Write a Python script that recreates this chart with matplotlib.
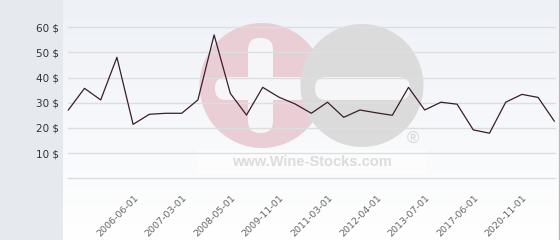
import numpy as np
import matplotlib
matplotlib.use("Agg")
import matplotlib.pyplot as plt
from matplotlib.patches import Circle, FancyBboxPatch, Rectangle

# ---------------- Data ----------------
prices = [27.1, 35.7, 31.1, 48.0, 21.4, 25.4, 25.8, 25.8, 31.1, 56.9,
          33.7, 25.1, 36.1, 32.2, 29.5, 25.8, 30.2, 24.2, 27.1, 26.0,
          25.0, 36.1, 27.1, 30.2, 29.4, 19.2, 17.9, 30.2, 33.3, 32.1,
          22.7]
tick_index = [4, 7, 10, 13, 16, 19, 22, 25, 28]
tick_labels = ["2006-06-01", "2007-03-01", "2008-05-01", "2009-11-01",
               "2011-03-01", "2012-04-01", "2013-07-01", "2017-06-01",
               "2020-11-01"]
y_ticks = [10, 20, 30, 40, 50, 60]

# ---------------- Layout (pixels) ----------------
W, H = 560, 240
PANEL_X = 63          # left grey panel width
X0_PX, DX_PX = 68.3, 16.2   # first point, spacing
Y0_PX, DY_PX = 178.3, 2.52  # value 0, px per unit

fig = plt.figure(figsize=(W / 100, H / 100), dpi=100)

# background axes in pixel coordinates
bg = fig.add_axes([0, 0, 1, 1])
bg.set_xlim(0, W)
bg.set_ylim(H, 0)
bg.set_axis_off()
bg.add_patch(Rectangle((0, 0), PANEL_X, H, color="#e6eaee", lw=0))
grad = np.linspace(0, 1, 100)[:, None]
top = np.array([0.933, 0.945, 0.965])
bottom = np.array([1.0, 1.0, 1.0])
img = top + (bottom - top) * grad
bg.imshow(img[:, None, :].repeat(2, axis=1), extent=[PANEL_X, 558, H, 0],
          aspect="auto", zorder=0)
bg.plot([558.5, 558.5], [0, H], color="#b8b8b8", lw=1, zorder=1)

# watermark
bg.add_patch(Rectangle((197, 150), 230, 25, color="white", alpha=0.5, lw=0, zorder=1))
bg.add_patch(Circle((262, 85.5), 62.5, color="#eaced5", lw=0, zorder=2))
bar_col = "#f6f6f9"
bg.add_patch(FancyBboxPatch((248, 38), 25, 95, boxstyle="round,pad=0,rounding_size=12",
                            color=bar_col, lw=0, zorder=3))
bg.add_patch(FancyBboxPatch((215, 77), 95, 23, boxstyle="round,pad=0,rounding_size=11",
                            color=bar_col, lw=0, zorder=3))
bg.add_patch(Circle((362, 85.5), 61.5, color="#dbdbdb", lw=0, zorder=4))
bg.add_patch(FancyBboxPatch((315, 77), 95, 23, boxstyle="round,pad=0,rounding_size=11",
                            color=bar_col, lw=0, zorder=5))
bg.text(312, 162, "www.Wine-Stocks.com", ha="center", va="center",
        fontsize=10.5, fontweight="bold", family="Liberation Sans",
        color="#dcdcdc", zorder=5)
bg.text(413, 139, "\u00ae", ha="center", va="center", fontsize=12,
        family="Liberation Sans", color="#d6d6d6", zorder=5)

# data axes: map indexes/values so that they land on the reference pixels
ax = fig.add_axes([PANEL_X / W, 0, (558 - PANEL_X) / W, 1])
ax.patch.set_alpha(0)
ax.set_xlim((PANEL_X - X0_PX) / DX_PX, (558 - X0_PX) / DX_PX)
ax.set_ylim((Y0_PX - H) / DY_PX, Y0_PX / DY_PX)
for s in ax.spines.values():
    s.set_visible(False)

n = len(prices)
for v in [0] + y_ticks:
    ax.plot([0, n - 1 + 0.05], [v, v], color="#dedede", lw=1, zorder=1)

ax.plot(range(n), prices, color="#3a1d2c", lw=0.9, zorder=3)

ax.set_yticks(y_ticks)
ax.set_yticklabels([f"{v} $" for v in y_ticks])
ax.tick_params(axis="y", length=0, pad=3, labelsize=7.5, labelcolor="#333333")
ax.set_xticks([])

for i, lab in zip(tick_index, tick_labels):
    ax.annotate(lab, (i, 0), xytext=(7, -15), textcoords="offset pixels",
                rotation=45, ha="right", va="top", fontsize=6.8,
                color="#666666")

fig.savefig("out.png", dpi=100)
